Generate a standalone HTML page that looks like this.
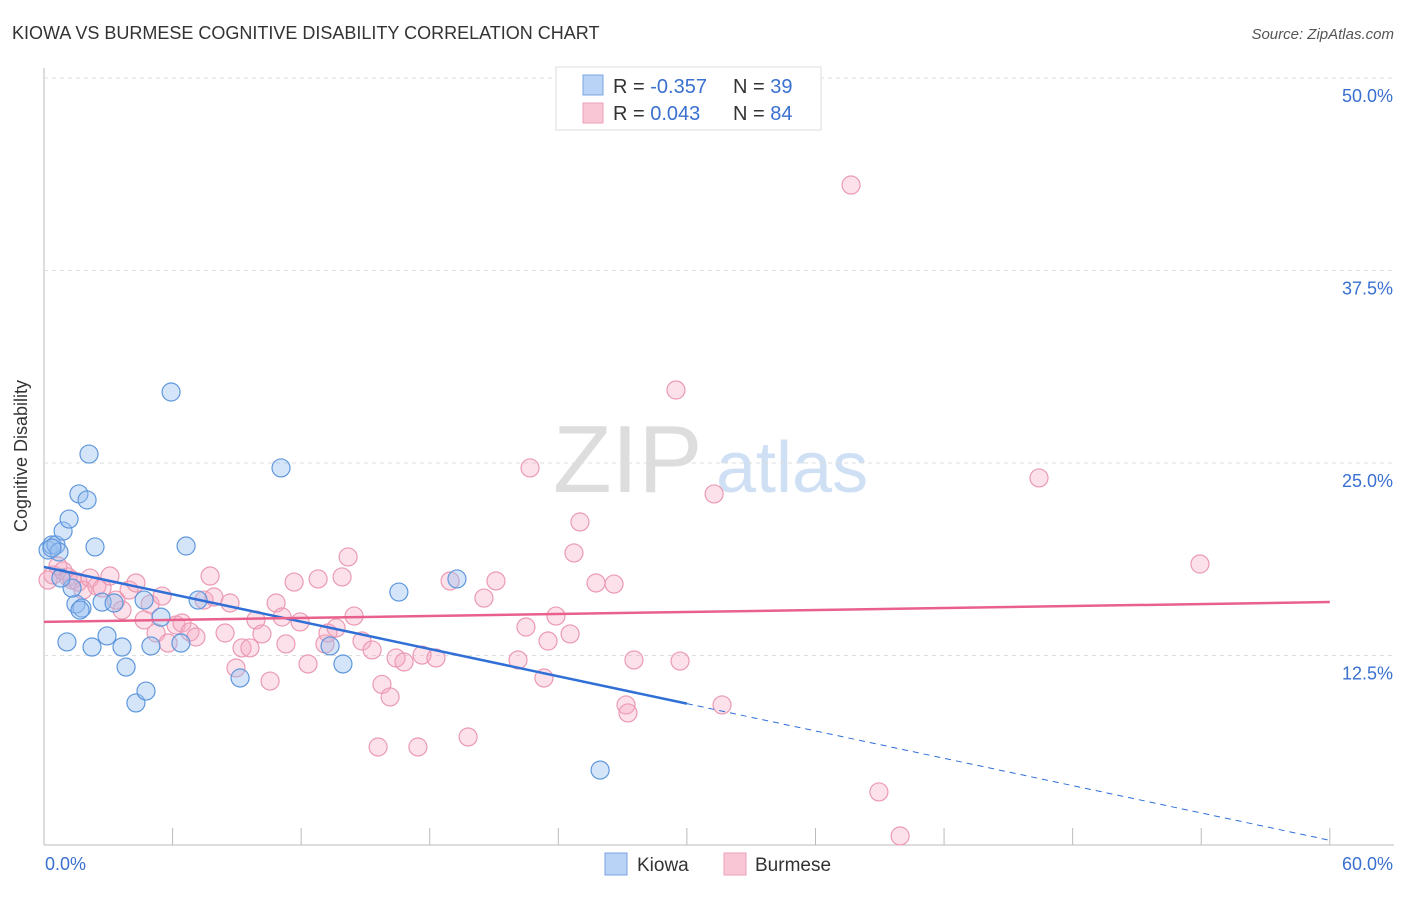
<!DOCTYPE html>
<html><head><meta charset="utf-8"><style>
body{margin:0;background:#fff;font-family:"Liberation Sans",sans-serif;}
svg text{font-family:"Liberation Sans",sans-serif;}
</style></head><body>
<svg id="c" width="1406" height="892">
<text x="12" y="39" font-size="18" fill="#333">KIOWA VS BURMESE COGNITIVE DISABILITY CORRELATION CHART</text>
<text x="1394" y="39" font-size="15" fill="#555" font-style="italic" text-anchor="end">Source: ZipAtlas.com</text>
<g>
<text x="553" y="492" font-size="96" fill="#ddd" font-family="Liberation Serif,serif">ZIP</text>
<text x="716" y="492" font-size="72" fill="#cfe0f5">atlas</text>
</g>
<g id="grid"></g>
<g id="pts"></g>
<g id="lines"></g>
<text x="27" y="456" font-size="18" fill="#333" transform="rotate(-90 27 456)" text-anchor="middle">Cognitive Disability</text>
<g>
<rect x="556" y="67" width="265" height="63" fill="#fff" stroke="#ddd"/>
<rect x="583" y="75" width="20" height="20" fill="#b8d3f5" stroke="#7aa6e0"/>
<rect x="583" y="103" width="20" height="20" fill="#f9c6d5" stroke="#eea3b9"/>
<text x="613" y="93" font-size="20" fill="#333">R = <tspan fill="#3a70d0">-0.357</tspan></text>
<text x="733" y="93" font-size="20" fill="#333">N = <tspan fill="#3a70d0">39</tspan></text>
<text x="613" y="120" font-size="20" fill="#333">R = <tspan fill="#3a70d0"> 0.043</tspan></text>
<text x="733" y="120" font-size="20" fill="#333">N = <tspan fill="#3a70d0">84</tspan></text>
</g>
<g>
<rect x="605" y="853" width="22" height="22" fill="#b8d3f5" stroke="#7aa6e0"/>
<text x="637" y="871" font-size="19" fill="#333">Kiowa</text>
<rect x="724" y="853" width="22" height="22" fill="#f9c6d5" stroke="#eea3b9"/>
<text x="755" y="871" font-size="19" fill="#333">Burmese</text>
</g>
</svg>
<script>
const yTicks=[12.5,25,37.5,50];
const yTickLabels=["12.5%","25.0%","37.5%","50.0%"];
const xTicks=[0,6,12,18,24,30,36,42,48,54,60];
const kiowaX=[0.19,0.37,0.56,0.70,0.89,1.17,1.63,2.01,2.10,2.38,1.49,1.77,1.31,0.79,1.07,2.24,2.94,2.71,3.27,3.64,3.83,4.29,4.76,4.99,4.67,5.46,5.93,6.39,6.63,7.19,9.15,11.06,13.35,13.95,16.56,19.27,25.95,0.37,1.68];
const kiowaY=[19.35,19.68,19.68,19.22,20.58,21.36,22.99,22.60,25.58,19.55,15.84,15.58,16.88,17.53,13.38,13.05,13.77,15.97,15.91,13.05,11.75,9.42,10.19,13.12,16.10,14.99,29.61,13.31,19.61,16.10,11.04,24.68,13.12,11.95,16.62,17.47,5.06,19.48,15.45];
const burmX=[0.19,0.42,0.65,0.89,1.12,1.31,1.59,1.82,2.15,2.47,2.71,3.08,3.36,3.64,3.97,4.29,4.67,4.95,5.23,5.51,5.79,6.16,6.44,6.81,7.09,7.47,7.75,7.93,8.45,8.68,8.96,9.24,9.61,9.89,10.17,10.55,10.83,11.11,11.29,11.67,11.95,12.32,12.79,13.11,13.25,13.63,13.91,14.19,14.47,14.84,15.31,15.59,15.77,16.15,16.43,16.80,17.45,17.64,18.29,18.95,19.79,20.53,21.09,22.12,22.49,22.68,23.33,23.52,23.89,24.55,24.73,25.01,25.76,26.60,27.16,27.25,27.53,29.49,29.68,31.27,31.64,37.66,38.96,39.95,46.43,53.94];
const burmY=[17.40,17.73,18.31,17.99,17.60,17.40,17.27,16.75,17.53,17.01,16.88,17.66,16.10,15.45,16.75,17.21,14.81,15.84,13.96,16.36,13.31,14.48,14.61,14.03,13.70,16.10,17.66,16.30,13.96,15.91,11.69,12.99,12.99,14.81,13.90,10.84,15.91,15.00,13.25,17.27,14.68,11.95,17.47,13.25,13.96,14.29,17.60,18.90,15.06,13.44,12.86,6.56,10.62,9.81,12.34,12.08,6.56,12.53,12.34,17.34,7.21,16.23,17.34,12.21,14.35,24.68,11.04,13.44,15.06,13.90,19.16,21.17,17.21,17.14,9.29,8.77,12.21,29.74,12.14,22.99,9.29,43.05,3.64,0.78,24.03,18.44];
const kiowaTrend=[18.25,0.5], burmTrend=[14.68,15.97];
const NS="http://www.w3.org/2000/svg";
const X=v=>44+v*21.43, Y=v=>848-v*15.4;
function mk(t,a,p){const e=document.createElementNS(NS,t);for(const k in a)e.setAttribute(k,a[k]);p.appendChild(e);return e;}
const grid=document.getElementById('grid');
mk('line',{x1:44,y1:68,x2:44,y2:845,stroke:'#bbb'},grid);
mk('line',{x1:44,y1:845,x2:1394,y2:845,stroke:'#bbb'},grid);
yTicks.forEach((t,i)=>{
 const l=mk('line',{x1:44,y1:Y(t),x2:1394,y2:Y(t),stroke:'#ddd','stroke-dasharray':'4,4'},grid);
 
 
 const tx=mk('text',{x:1393,y:Y(t)+24,'font-size':18,fill:'#3a70d0','text-anchor':'end'},grid);
 tx.textContent=yTickLabels[i];
 
 
});
xTicks.forEach(t=>{
 const l=mk('line',{x1:X(t),y1:828,x2:X(t),y2:845,stroke:'#bbb'},grid);
 
 
});
const x0=mk('text',{x:45,y:870,'font-size':18,fill:'#3a70d0'},grid);x0.textContent='0.0%';


const x1=mk('text',{x:1393,y:870,'font-size':18,fill:'#3a70d0','text-anchor':'end'},grid);x1.textContent='60.0%';


const pts=document.getElementById('pts');
burmX.forEach((v,i)=>{
 const c=mk('circle',{cx:X(v),cy:Y(burmY[i]),r:9,fill:'rgba(247,170,195,0.35)',stroke:'#eb9ab3','stroke-width':1.2},pts);
 
 
});
kiowaX.forEach((v,i)=>{
 const c=mk('circle',{cx:X(v),cy:Y(kiowaY[i]),r:9,fill:'rgba(150,190,240,0.4)',stroke:'#5f97dc','stroke-width':1.2},pts);
 
 
});
const ln=document.getElementById('lines');
const kAt=v=>kiowaTrend[0]+(kiowaTrend[1]-kiowaTrend[0])*v/60;
const bl=mk('line',{x1:X(0),y1:Y(kAt(0)),x2:X(30),y2:Y(kAt(30)),stroke:'#2f6fd6','stroke-width':2.5},ln);


const bd=mk('line',{x1:X(30),y1:Y(kAt(30)),x2:X(60),y2:Y(kAt(60)),stroke:'#2f6fd6','stroke-width':1,'stroke-dasharray':'6,5'},ln);


const pl=mk('line',{x1:X(0),y1:Y(burmTrend[0]),x2:X(60),y2:Y(burmTrend[1]),stroke:'#e8608b','stroke-width':2.5},ln);


</script>
</body></html>
